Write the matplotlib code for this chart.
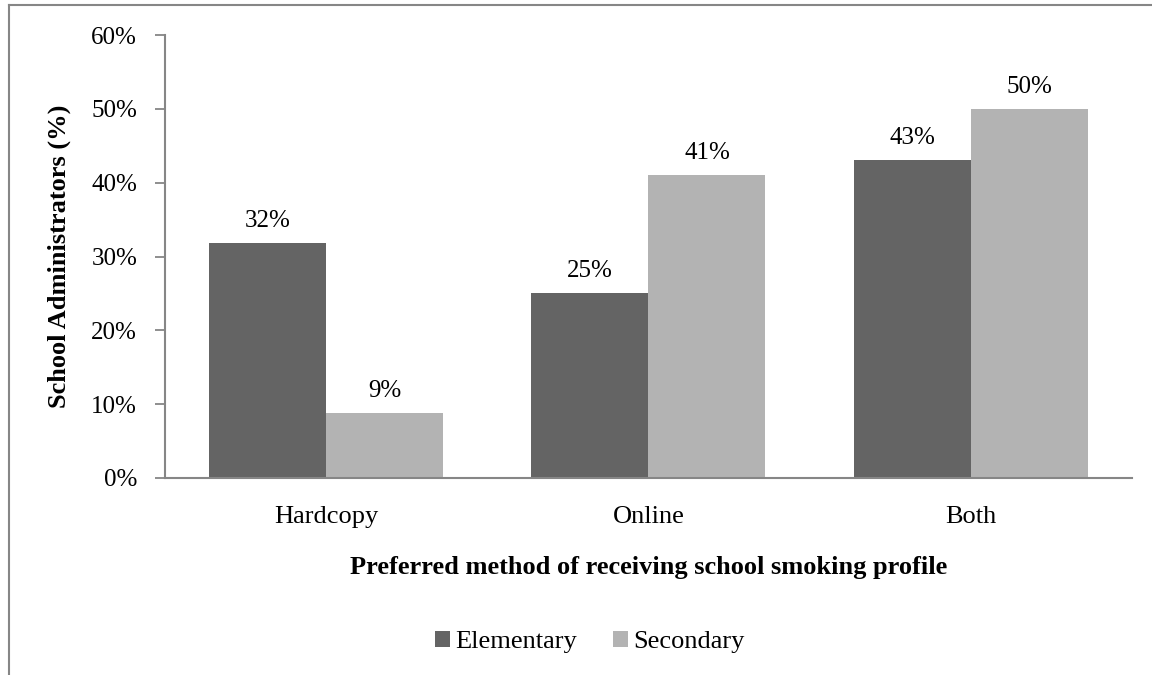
import numpy as np
import matplotlib.pyplot as plt
from matplotlib.lines import Line2D
from matplotlib.ticker import FuncFormatter

plt.rcParams['font.family'] = ['Liberation Serif', 'DejaVu Serif']

# survey results (percent of school administrators)
methods = ['Hardcopy', 'Online', 'Both']
elementary = [31.8, 25.0, 43.1]
secondary = [8.8, 41.0, 50.0]
series_names = ['Elementary', 'Secondary']
colors = ['#646464', '#b3b3b3']
axis_grey = '#868686'

fig = plt.figure(figsize=(11.52, 6.75), dpi=100)
ax = fig.add_axes([0.1432, 0.2919, 0.8394, 0.6561])

x = np.arange(len(methods))
w = 0.363
b1 = ax.bar(x - w/2, elementary, w, color=colors[0], label=series_names[0])
b2 = ax.bar(x + w/2, secondary, w, color=colors[1], label=series_names[1])

# value labels above each bar
for bars in (b1, b2):
    for r in bars:
        h = r.get_height()
        ax.annotate('%.0f%%' % h, (r.get_x() + r.get_width()/2, h),
                    xytext=(0, 8), textcoords='offset points',
                    ha='center', va='bottom', fontsize=18)

ax.set_xlim(-0.5, 2.5)
ax.set_ylim(0, 60)
ax.set_yticks(np.arange(0, 61, 10))
ax.yaxis.set_major_formatter(FuncFormatter(lambda v, p: '%d%%' % v))
ax.set_xticks(x)
ax.set_xticklabels(methods)
ax.tick_params(axis='x', length=0, pad=20, labelsize=19)
ax.tick_params(axis='y', length=7, width=1.3, color=axis_grey, pad=13, labelsize=18)

for s in ['top', 'right']:
    ax.spines[s].set_visible(False)
for s in ['left', 'bottom']:
    ax.spines[s].set_color(axis_grey)
    ax.spines[s].set_linewidth(1.5)

ax.set_ylabel('School Administrators (%)', fontsize=19, fontweight='bold')
ax.yaxis.set_label_coords(-0.097, 0.5)
ax.set_xlabel('Preferred method of receiving school smoking profile',
              fontsize=19, fontweight='bold', labelpad=20)

fig.legend(handles=[b1, b2], labels=series_names, loc='center',
           bbox_to_anchor=(0.512, 0.049), ncol=2, frameon=False,
           fontsize=19, handlelength=0.55, handleheight=0.55,
           handletextpad=0.2, columnspacing=1.4)

# outer frame (top and left edges)
fig.add_artist(Line2D([9/1152, 9/1152], [0, 1 - 5/675], color=axis_grey, lw=1.5))
fig.add_artist(Line2D([9/1152, 1], [1 - 5/675, 1 - 5/675], color=axis_grey, lw=1.5))

fig.savefig('out.png', dpi=100)
